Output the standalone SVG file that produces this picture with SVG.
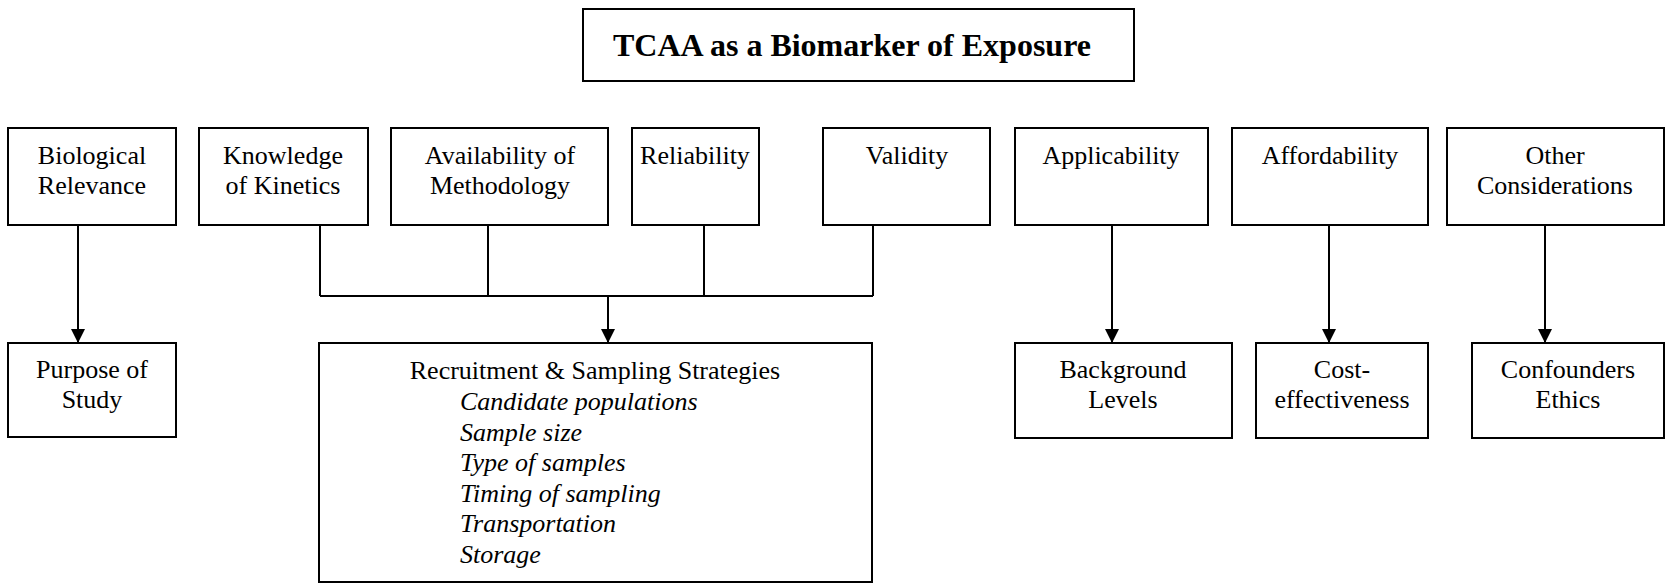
<svg xmlns="http://www.w3.org/2000/svg" width="1666" height="583" viewBox="0 0 1666 583">
<style>
.box{fill:#fff;stroke:#000;stroke-width:2}
.t{font-family:"Liberation Serif","Times New Roman",serif;font-size:26px;fill:#000;text-anchor:middle}
.ti{font-family:"Liberation Serif","Times New Roman",serif;font-size:26px;font-style:italic;fill:#000}
.title{font-family:"Liberation Serif","Times New Roman",serif;font-size:32px;font-weight:bold;fill:#000;text-anchor:middle}
.c{fill:none;stroke:#000;stroke-width:2}
</style>
<defs>
<marker id="arr" viewBox="0 0 14 14" refX="14" refY="7" markerWidth="14" markerHeight="14" markerUnits="userSpaceOnUse" orient="auto">
<path d="M0,0 L14,7 L0,14 z" fill="#000"/>
</marker>
</defs>
<rect width="1666" height="583" fill="#fff"/>
<g id="connectors">
<path class="c" d="M78,225 V343" marker-end="url(#arr)"/>
<path class="c" d="M320,225 V296 M488,225 V296 M704,225 V296 M873,225 V296 M320,296 H873"/>
<path class="c" d="M608,296 V343" marker-end="url(#arr)"/>
<path class="c" d="M1112,225 V343" marker-end="url(#arr)"/>
<path class="c" d="M1329,225 V343" marker-end="url(#arr)"/>
<path class="c" d="M1545,225 V343" marker-end="url(#arr)"/>
</g>
<g id="title">
<rect class="box" x="583" y="9" width="551" height="72"/>
<text class="title" x="852" y="56">TCAA as a Biomarker of Exposure</text>
</g>
<g id="biological">
<rect class="box" x="8" y="128" width="168" height="97"/>
<text class="t" x="92" y="164">Biological</text>
<text class="t" x="92" y="194">Relevance</text>
</g>
<g id="knowledge">
<rect class="box" x="199" y="128" width="169" height="97"/>
<text class="t" x="283" y="164">Knowledge</text>
<text class="t" x="283" y="194">of Kinetics</text>
</g>
<g id="availability">
<rect class="box" x="391" y="128" width="217" height="97"/>
<text class="t" x="500" y="164">Availability of</text>
<text class="t" x="500" y="194">Methodology</text>
</g>
<g id="reliability">
<rect class="box" x="632" y="128" width="127" height="97"/>
<text class="t" x="695" y="164">Reliability</text>
</g>
<g id="validity">
<rect class="box" x="823" y="128" width="167" height="97"/>
<text class="t" x="907" y="164">Validity</text>
</g>
<g id="applicability">
<rect class="box" x="1015" y="128" width="193" height="97"/>
<text class="t" x="1111" y="164">Applicability</text>
</g>
<g id="affordability">
<rect class="box" x="1232" y="128" width="196" height="97"/>
<text class="t" x="1330" y="164">Affordability</text>
</g>
<g id="other">
<rect class="box" x="1447" y="128" width="217" height="97"/>
<text class="t" x="1555" y="164">Other</text>
<text class="t" x="1555" y="194">Considerations</text>
</g>
<g id="purpose">
<rect class="box" x="8" y="343" width="168" height="94"/>
<text class="t" x="92" y="378">Purpose of</text>
<text class="t" x="92" y="408">Study</text>
</g>
<g id="recruitment">
<rect class="box" x="319" y="343" width="553" height="239"/>
<text class="t" x="595" y="379">Recruitment &amp; Sampling Strategies</text>
<text class="ti" x="460" y="410">Candidate populations</text>
<text class="ti" x="460" y="440.5">Sample size</text>
<text class="ti" x="460" y="471">Type of samples</text>
<text class="ti" x="460" y="501.5">Timing of sampling</text>
<text class="ti" x="460" y="532">Transportation</text>
<text class="ti" x="460" y="562.5">Storage</text>
</g>
<g id="background">
<rect class="box" x="1015" y="343" width="217" height="95"/>
<text class="t" x="1123" y="378">Background</text>
<text class="t" x="1123" y="408">Levels</text>
</g>
<g id="cost">
<rect class="box" x="1256" y="343" width="172" height="95"/>
<text class="t" x="1342" y="378">Cost-</text>
<text class="t" x="1342" y="408">effectiveness</text>
</g>
<g id="confounders">
<rect class="box" x="1472" y="343" width="192" height="95"/>
<text class="t" x="1568" y="378">Confounders</text>
<text class="t" x="1568" y="408">Ethics</text>
</g>
</svg>
